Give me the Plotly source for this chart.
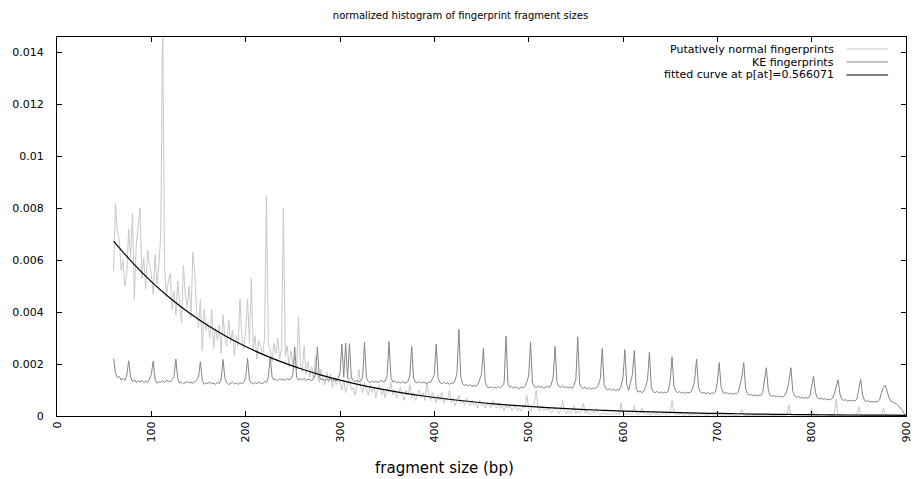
import plotly.graph_objects as go

# ---------------- data ----------------
bp_start = 60
bp_step = 2

normal_val = [
    0.0056, 0.0082, 0.0071, 0.0068, 0.0056, 0.0060, 0.0050, 0.0055, 0.0072, 0.0061,
    0.0078, 0.0045, 0.0066, 0.0072, 0.0080, 0.0053, 0.0061, 0.0049, 0.0064, 0.0058,
    0.0055, 0.0047, 0.0062, 0.0051, 0.0058, 0.0070, 0.0155, 0.0058, 0.0046, 0.0052,
    0.0055, 0.0041, 0.0048, 0.0039, 0.0052, 0.0044, 0.0036, 0.0058, 0.0047, 0.0042,
    0.0050, 0.0038, 0.0063, 0.0055, 0.0040, 0.0034, 0.0045, 0.0025, 0.0041, 0.0033,
    0.0036, 0.0030, 0.0041, 0.0026, 0.0034, 0.0029, 0.0035, 0.0024, 0.0039, 0.0030,
    0.0027, 0.0037, 0.0028, 0.0033, 0.0023, 0.0031, 0.0027, 0.0045, 0.0030, 0.0026,
    0.0033, 0.0045, 0.0028, 0.0053, 0.0025, 0.0031, 0.0022, 0.0029, 0.0026, 0.0024,
    0.0030, 0.0085, 0.0027, 0.0026, 0.0021, 0.0028, 0.0024, 0.0030, 0.0022, 0.0026,
    0.0080, 0.0023, 0.0027, 0.0019, 0.0025, 0.0020, 0.0023, 0.0018, 0.0038, 0.0020,
    0.0017, 0.0027, 0.0016, 0.0021, 0.0015, 0.0019, 0.0014, 0.0023, 0.0016, 0.0013,
    0.0018, 0.0014, 0.0012, 0.0017, 0.0013, 0.0016, 0.0011, 0.0015, 0.0012, 0.0014,
    0.0013, 0.0010, 0.0014, 0.0009, 0.0012, 0.0015, 0.0010, 0.0011, 0.0008, 0.0012,
    0.0018, 0.0011, 0.0009, 0.0013, 0.0010, 0.0008, 0.0012, 0.0009, 0.0011, 0.0007,
    0.0010, 0.0012, 0.0008, 0.0010, 0.0007, 0.0011, 0.0009, 0.0013, 0.0008, 0.0010,
    0.0007, 0.0009, 0.0011, 0.0008, 0.0006, 0.0010, 0.0008, 0.0012, 0.0007, 0.0009,
    0.0006, 0.0008, 0.0010, 0.0007, 0.0009, 0.0006, 0.0013, 0.0008, 0.0006, 0.0009,
    0.0007, 0.0005, 0.0008, 0.0006, 0.0009, 0.0005, 0.0007, 0.0006, 0.0010, 0.0005,
    0.0007, 0.0004, 0.0006, 0.0008, 0.0005, 0.0006, 0.0004, 0.0007, 0.0005, 0.0004,
    0.0006, 0.0004, 0.0005, 0.0003, 0.0006, 0.0004, 0.0005, 0.0003, 0.0005, 0.0004,
    0.0003, 0.0006, 0.0004, 0.0003, 0.0005, 0.0003, 0.0004, 0.0002, 0.0004, 0.0003,
    0.0004, 0.0002, 0.0003, 0.0004, 0.0002, 0.0003, 0.0002, 0.0004, 0.0003, 0.0008,
    0.0003, 0.0002, 0.0004, 0.0005, 0.0010, 0.0003, 0.0002, 0.0004, 0.0002, 0.0003,
    0.0002, 0.0003, 0.0001, 0.0002, 0.0003, 0.0002, 0.0001, 0.0002, 0.0006, 0.0002,
    0.0001, 0.0002, 0.0001, 0.0002, 0.0004, 0.0001, 0.0002, 0.0001, 0.0002, 0.0005,
    0.0001, 0.0002, 0.00005, 0.0001, 0.0002, 0.0001, 0.0003, 0.0001, 0.00005, 0.0001,
    0.0001, 0.00005, 0.0001, 0.00005, 0.0001, 0.00005, 0.0001, 0.0001, 0.00005, 0.0005,
    0.0001, 0.00005, 0.0001, 0.0001, 0.00005, 0.0001, 0.0004, 0.0001, 0.00005, 0.0001,
    0.0003, 0.0001, 0.00005, 0.0001, 0.00005, 0.00005, 0.0001, 0.00005, 0.0001, 0.00005,
    0.00005, 0.0001, 0.00005, 0.0001, 0.00005, 0.0001, 0.0006, 0.0001, 0.00005, 0.0001,
    0.00005, 0.0001, 0.00003, 0.00005, 0.0001, 0.00003, 0.00005, 0.00003, 0.0001, 0.00005,
    0.00003, 0.00005, 0.0001, 0.00003, 0.00005, 0.00003, 0.00005, 0.0001, 0.00003, 0.00005,
    0.00003, 0.00005, 0.00003, 0.00002, 0.00005, 0.00003, 0.00002, 0.00005, 0.00003, 0.00002,
    0.00003, 0.00002, 0.00005, 0.00025, 0.00003, 0.00002, 0.00003, 0.00002, 0.00004, 0.00002,
    0.00003, 0.00002, 0.00004, 0.00002, 0.00003, 0.00002, 0.00003, 0.00004, 0.00002, 0.00003,
    0.00002, 0.00003, 0.00002, 0.00004, 0.00002, 0.00003, 0.00002, 0.00003, 0.00043, 0.00002,
    0.00003, 0.00002, 0.00003, 0.00002, 0.00003, 0.00002, 0.00004, 0.00002, 0.00003, 0.00002,
    0.00032, 0.00003, 0.00002, 0.00003, 0.00002, 0.00003, 0.00002, 0.00004, 0.00002, 0.00003,
    0.00002, 0.00003, 0.00002, 0.00065, 0.00003, 0.00002, 0.00003, 0.00002, 0.00003, 0.00002,
    0.00003, 0.00002, 0.00003, 0.00002, 0.00004, 0.00035, 0.00003, 0.00002, 0.00003, 0.00002,
    0.00003, 0.00002, 0.00003, 0.00002, 0.00003, 0.00002, 0.00004, 0.00002, 0.00032, 0.00002,
    0.00003, 0.00002, 0.00003, 0.00002, 0.00003, 0.00002, 0.00003, 0.00002, 0.00001, 0.00002,
    0.00001,
]

ke_val = [
    0.00221, 0.00165, 0.00148, 0.00152, 0.00139, 0.00145, 0.00137, 0.00158, 0.00213, 0.00150,
    0.00132, 0.00140, 0.00128, 0.00135, 0.00131, 0.00138, 0.00129, 0.00134, 0.00130, 0.00142,
    0.00160, 0.00212, 0.00140, 0.00126, 0.00132, 0.00130, 0.00136, 0.00129, 0.00138, 0.00133,
    0.00131, 0.00140, 0.00152, 0.00219, 0.00143, 0.00127, 0.00131, 0.00124, 0.00129, 0.00133,
    0.00127, 0.00130, 0.00126, 0.00132, 0.00137, 0.00150, 0.00209, 0.00138, 0.00122, 0.00128,
    0.00125, 0.00131, 0.00124, 0.00127, 0.00122, 0.00129, 0.00126, 0.00141, 0.00218, 0.00145,
    0.00128, 0.00121, 0.00126, 0.00130, 0.00124, 0.00127, 0.00122, 0.00128, 0.00125, 0.00131,
    0.00148, 0.00222, 0.00140, 0.00127, 0.00123, 0.00129, 0.00125, 0.00131, 0.00127, 0.00124,
    0.00133, 0.00130, 0.00148, 0.00227, 0.00150, 0.00138, 0.00142, 0.00136, 0.00144, 0.00139,
    0.00141, 0.00137, 0.00145, 0.00140, 0.00143, 0.00158, 0.00266, 0.00150, 0.00138, 0.00144,
    0.00139, 0.00146, 0.00137, 0.00142, 0.00140, 0.00136, 0.00145, 0.00160, 0.00266, 0.00152,
    0.00139, 0.00143, 0.00136, 0.00141, 0.00138, 0.00144, 0.00137, 0.00140, 0.00135, 0.00146,
    0.00165, 0.00277, 0.00150, 0.00281, 0.00145, 0.00278, 0.00148, 0.00136, 0.00132, 0.00138,
    0.00131, 0.00135, 0.00150, 0.00284, 0.00148, 0.00133, 0.00128, 0.00136, 0.00130, 0.00134,
    0.00129, 0.00133, 0.00137, 0.00131, 0.00135, 0.00158, 0.00287, 0.00148, 0.00131, 0.00135,
    0.00128, 0.00133, 0.00127, 0.00132, 0.00130, 0.00126, 0.00134, 0.00155, 0.00268, 0.00146,
    0.00130, 0.00127, 0.00133, 0.00126, 0.00131, 0.00128, 0.00125, 0.00132, 0.00129, 0.00143,
    0.00160, 0.00277, 0.00145, 0.00128, 0.00124, 0.00130, 0.00125, 0.00128, 0.00122, 0.00127,
    0.00125, 0.00138, 0.00165, 0.00334, 0.00150, 0.00124, 0.00118, 0.00122, 0.00116, 0.00120,
    0.00113, 0.00118, 0.00115, 0.00121, 0.00140, 0.00160, 0.00260, 0.00130, 0.00112, 0.00108,
    0.00114, 0.00106, 0.00111, 0.00108, 0.00113, 0.00109, 0.00115, 0.00128, 0.00307, 0.00125,
    0.00110, 0.00114, 0.00107, 0.00112, 0.00109, 0.00105, 0.00111, 0.00108, 0.00114, 0.00130,
    0.00155, 0.00284, 0.00128, 0.00113, 0.00108, 0.00116, 0.00110, 0.00113, 0.00107, 0.00111,
    0.00115, 0.00109, 0.00122, 0.00150, 0.00268, 0.00130, 0.00114, 0.00110, 0.00116, 0.00109,
    0.00113, 0.00108, 0.00112, 0.00106, 0.00118, 0.00140, 0.00305, 0.00125, 0.00110, 0.00106,
    0.00112, 0.00104, 0.00109, 0.00103, 0.00108, 0.00105, 0.00110, 0.00118, 0.00145, 0.00260,
    0.00122, 0.00104, 0.00100, 0.00106, 0.00099, 0.00103, 0.00098, 0.00102, 0.00100, 0.00115,
    0.00150, 0.00256, 0.00120, 0.00098, 0.00130, 0.00160, 0.00252, 0.00105, 0.00092, 0.00096,
    0.00090, 0.00095, 0.00112, 0.00140, 0.00245, 0.00110, 0.00094, 0.00090, 0.00095, 0.00089,
    0.00093, 0.00088, 0.00092, 0.00090, 0.00096, 0.00135, 0.00228, 0.00115, 0.00095, 0.00090,
    0.00094, 0.00088, 0.00092, 0.00087, 0.00091, 0.00089, 0.00093, 0.00108, 0.00140, 0.00219,
    0.00110, 0.00092, 0.00088, 0.00091, 0.00086, 0.00090, 0.00085, 0.00089, 0.00087, 0.00092,
    0.00130, 0.00206, 0.00110, 0.00092, 0.00087, 0.00090, 0.00085, 0.00088, 0.00083, 0.00087,
    0.00085, 0.00090, 0.00118, 0.00150, 0.00206, 0.00105, 0.00085, 0.00080, 0.00083, 0.00078,
    0.00082, 0.00077, 0.00080, 0.00078, 0.00090, 0.00130, 0.00186, 0.00100, 0.00080, 0.00076,
    0.00079, 0.00074, 0.00078, 0.00073, 0.00076, 0.00074, 0.00082, 0.00100, 0.00135, 0.00186,
    0.00095, 0.00076, 0.00072, 0.00075, 0.00070, 0.00073, 0.00068, 0.00071, 0.00069, 0.00076,
    0.00110, 0.00154, 0.00090, 0.00070, 0.00066, 0.00069, 0.00064, 0.00067, 0.00062, 0.00065,
    0.00063, 0.00068, 0.00085, 0.00115, 0.00140, 0.00085, 0.00064, 0.00060, 0.00063, 0.00058,
    0.00061, 0.00057, 0.00060, 0.00058, 0.00066, 0.00105, 0.00141, 0.00080, 0.00060, 0.00056,
    0.00059, 0.00054, 0.00057, 0.00053, 0.00056, 0.00055, 0.00062, 0.00090, 0.00110, 0.00119,
    0.00095, 0.00070, 0.00058, 0.00055, 0.00050, 0.00046, 0.00040, 0.00032, 0.00022, 0.00010,
    0.00002,
]

fit_bp = [60, 80, 100, 120, 140, 160, 180, 200, 220, 240, 260, 280, 300, 320, 340,
          360, 380, 400, 420, 440, 460, 480, 500, 520, 540, 560, 580, 600, 620, 640,
          660, 680, 700, 720, 740, 760, 780, 800, 820, 840, 860, 880, 900]
fit_val = [0.006740, 0.005906, 0.005176, 0.004535, 0.003974, 0.003483, 0.003052,
           0.002675, 0.002344, 0.002054, 0.001800, 0.001577, 0.001382, 0.001211,
           0.001061, 0.000930, 0.000815, 0.000714, 0.000626, 0.000548, 0.000480,
           0.000421, 0.000369, 0.000323, 0.000283, 0.000248, 0.000217, 0.000191,
           0.000167, 0.000146, 0.000128, 0.000112, 0.0000984, 0.0000862, 0.0000756,
           0.0000662, 0.0000580, 0.0000508, 0.0000445, 0.0000390, 0.0000342,
           0.0000300, 0.0000262]

series_names = ["Putatively normal fingerprints", "KE fingerprints",
                "fitted curve at p[at]=0.566071"]
series_colors = ["#c8c8c8", "#858585", "#000000"]

x_tick_vals = [0, 100, 200, 300, 400, 500, 600, 700, 800, 900]
x_tick_text = ["0", "100", "200", "300", "400", "500", "600", "700", "800", "900"]
y_tick_vals = [0, 0.002, 0.004, 0.006, 0.008, 0.010, 0.012, 0.014]
y_tick_text = ["0", "0.002", "0.004", "0.006", "0.008", "0.01", "0.012", "0.014"]

title_text = "normalized histogram of fingerprint fragment sizes"
x_label = "fragment size (bp)"

# ---------------- figure ----------------
normal_bp = [bp_start + bp_step * i for i in range(len(normal_val))]
ke_bp = [bp_start + bp_step * i for i in range(len(ke_val))]

FONT = "DejaVu Sans"
W, H = 921, 479
ML, MR, MT, MB = 57, 8, 37, 63
PW, PH = W - ML - MR, H - MT - MB

fig = go.Figure()
fig.add_trace(go.Scatter(x=normal_bp, y=normal_val, mode="lines",
                         line=dict(color=series_colors[0], width=1),
                         name=series_names[0], showlegend=False))
fig.add_trace(go.Scatter(x=ke_bp, y=ke_val, mode="lines",
                         line=dict(color=series_colors[1], width=1),
                         name=series_names[1], showlegend=False))
fig.add_trace(go.Scatter(x=fit_bp, y=fit_val, mode="lines",
                         line=dict(color=series_colors[2], width=1.2, shape="spline"),
                         name=series_names[2], showlegend=False))


def px_to_paper_x(px):
    return (px - ML) / PW


def px_to_paper_y(py):
    return 1 - (py - MT) / PH


annotations = []
shapes = []
legend_rows_py = [49, 62, 75]
for name, color, py in zip(series_names, series_colors, legend_rows_py):
    annotations.append(dict(text=name, xref="paper", yref="paper",
                            x=px_to_paper_x(842), y=px_to_paper_y(py),
                            xanchor="right", yanchor="middle", showarrow=False,
                            font=dict(family=FONT, size=11, color="#000000")))
    shapes.append(dict(type="line", xref="paper", yref="paper",
                       x0=px_to_paper_x(853), x1=px_to_paper_x(895),
                       y0=px_to_paper_y(py), y1=px_to_paper_y(py),
                       line=dict(color=color, width=1)))

annotations.append(dict(text=x_label, xref="paper", yref="paper",
                        x=px_to_paper_x(448), y=px_to_paper_y(468),
                        xanchor="center", yanchor="middle", showarrow=False,
                        font=dict(family=FONT, size=15, color="#000000")))

fig.update_layout(
    width=W, height=H,
    margin=dict(l=ML, r=MR, t=MT, b=MB, pad=0),
    paper_bgcolor="white", plot_bgcolor="white",
    font=dict(family=FONT, size=11, color="#000000"),
    title=dict(text=title_text, x=0.5, xref="container", xanchor="center",
               y=1 - 15 / H, yref="container", yanchor="middle",
               font=dict(family=FONT, size=10, color="#000000")),
    annotations=annotations,
    shapes=shapes,
    showlegend=False,
)
fig.update_xaxes(range=[0, 900], tickmode="array", tickvals=x_tick_vals,
                 ticktext=x_tick_text, tickangle=-90, ticks="inside", ticklen=5,
                 tickcolor="#000000", showline=True, linecolor="#000000",
                 linewidth=1, mirror="ticks", showgrid=False, zeroline=False,
                 tickfont=dict(family=FONT, size=11, color="#000000"))
fig.update_yaxes(range=[0, 0.0146], tickmode="array", tickvals=y_tick_vals,
                 ticktext=y_tick_text, ticks="inside", ticklen=5,
                 tickcolor="#000000", showline=True, linecolor="#000000",
                 linewidth=1, mirror="ticks", showgrid=False, zeroline=False,
                 ticklabelstandoff=10,
                 tickfont=dict(family=FONT, size=11, color="#000000"))

fig.write_html("out.html")
